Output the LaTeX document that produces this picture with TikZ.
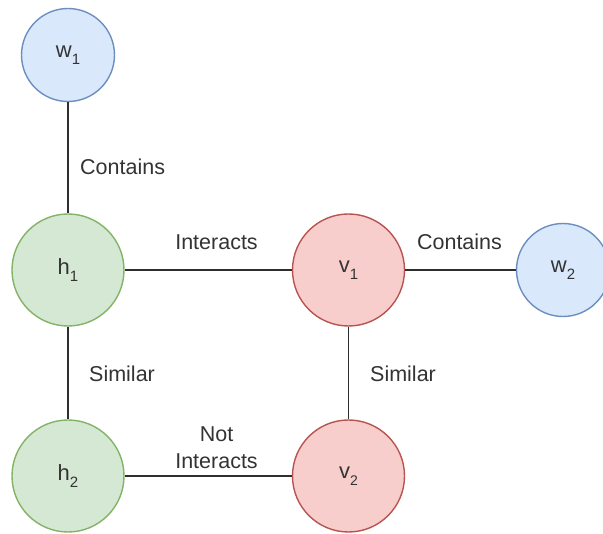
\documentclass[tikz,border=0pt]{standalone}
\usepackage{fontspec}
\setmainfont{Liberation Sans}
\definecolor{blueFill}{HTML}{DAE8FC}
\definecolor{blueLine}{HTML}{6C8EBF}
\definecolor{greenFill}{HTML}{D5E8D4}
\definecolor{greenLine}{HTML}{82B366}
\definecolor{redFill}{HTML}{F8CECC}
\definecolor{redLine}{HTML}{B85450}
\definecolor{ink}{HTML}{333333}
\newcommand{\sbs}[2][15]{\raisebox{-0.3em}{\fontsize{#1}{#1}\selectfont #2}}
\begin{document}
\begin{tikzpicture}[x=1pt,y=-1pt,
  vertex/.style={circle, line width=1.4pt, inner sep=0pt, text=ink,
    font=\fontsize{22}{24}\selectfont},
  word/.style={vertex, minimum size=93pt, draw=blueLine, fill=blueFill},
  human/.style={vertex, minimum size=112pt, draw=greenLine, fill=greenFill},
  virus/.style={vertex, minimum size=112pt, draw=redLine, fill=redFill},
  link/.style={line width=1.6pt, draw=ink!90!black},
  tag/.style={text=ink, inner sep=0pt, align=center,
    font=\fontsize{21.5}{27}\selectfont}]
\useasboundingbox (0,0) rectangle (603,534);
% entities
\node[word]  (w1) at (68,55)   {w\sbs{1}};
\node[human] (h1) at (68,270)  {h\sbs{1}};
\node[virus] (v1) at (348.5,270) {v\sbs{1}};
\node[word]  (w2) at (563,270) {w\sbs{2}};
\node[human] (h2) at (68,476)  {h\sbs{2}};
\node[virus] (v2) at (348.5,476) {v\sbs[14]{2}};
% relations
\draw[link] (w1) -- (h1);
\draw[link] (h1) -- (v1);
\draw[link] (v1) -- (w2);
\draw[link] (h1) -- (h2);
\draw[link] (v1) -- (v2);
\draw[link] (h2) -- (v2);
% relation names
\node[tag, anchor=west] (c1) at (80,167) {Contains};
\node[tag] (i1) at (216.5,242) {Interacts};
\node[tag] (c2) at (459.5,242) {Contains};
\node[tag, anchor=west] (s1) at (89,374) {Similar};
\node[tag, anchor=west] (s2) at (370,374) {Similar};
\node[tag] (i2) at (216.5,448) {Not\\Interacts};
\end{tikzpicture}
\end{document}
